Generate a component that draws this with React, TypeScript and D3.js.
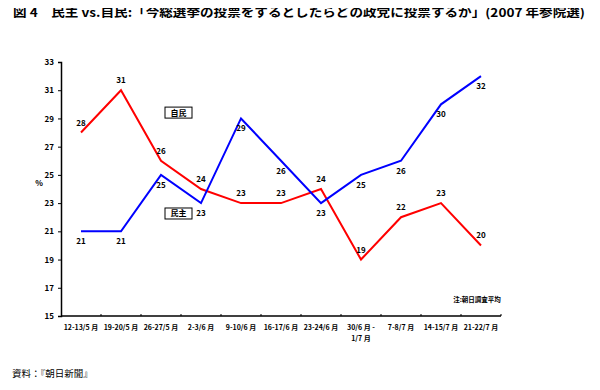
import React, { useEffect, useRef } from "react";
import * as d3 from "d3";

// survey periods (x categories); "\n" splits a label onto two lines
const periods = [
  "12-13/5 月",
  "19-20/5 月",
  "26-27/5 月",
  "2-3/6 月",
  "9-10/6 月",
  "16-17/6 月",
  "23-24/6 月",
  "30/6 月 -\n1/7 月",
  "7-8/7 月",
  "14-15/7 月",
  "21-22/7 月",
];

// 民主 (red) and 自民 (blue), in %
const minshu = [28, 31, 26, 24, 23, 23, 24, 19, 22, 23, 20];
const jimin = [21, 21, 25, 23, 29, 26, 23, 25, 26, 30, 32];

const yTicks = [15, 17, 19, 21, 23, 25, 27, 29, 31, 33];

const TITLE =
  "図 4　民主 vs.自民:「今総選挙の投票をするとしたらどの政党に投票するか」(2007 年参院選)";
const SOURCE = "資料：『朝日新聞』";
const NOTE = "注:朝日調査平均";

const FONT = "'Noto Sans CJK JP', 'DejaVu Sans', sans-serif";

function LineChart() {
  const svgRef = useRef<SVGSVGElement | null>(null);

  useEffect(() => {
    const width = 600;
    const height = 390;
    const margin = { top: 62, right: 99, bottom: 74, left: 61 };
    const w = width - margin.left - margin.right;
    const h = height - margin.top - margin.bottom;

    const root = d3.select(svgRef.current);
    root.selectAll("*").remove();
    root.attr("width", width).attr("height", height);

    root
      .append("rect")
      .attr("width", width)
      .attr("height", height)
      .attr("fill", "#fff");

    // title
    root
      .append("text")
      .attr("x", 13)
      .attr("y", 17)
      .attr("textLength", 572)
      .attr("lengthAdjust", "spacingAndGlyphs")
      .style("font-family", FONT)
      .style("font-size", "12px")
      .style("font-weight", "bold")
      .text(TITLE);

    // source
    root
      .append("text")
      .attr("x", 12)
      .attr("y", 377)
      .style("font-family", FONT)
      .style("font-size", "9.5px")
      .text(SOURCE);

    const g = root
      .append("g")
      .attr("transform", `translate(${margin.left},${margin.top})`);

    const x = d3.scaleBand<number>().domain(d3.range(periods.length)).range([0, w]);
    const y = d3.scaleLinear().domain([15, 33]).range([h, 0]);
    const cx = (i: number) => (x(i) as number) + x.bandwidth() / 2;

    // y axis
    const yAxis = g
      .append("g")
      .call(d3.axisLeft(y).tickValues(yTicks).tickSize(3).tickPadding(4));
    yAxis.select(".domain").attr("stroke", "#000").attr("stroke-width", 1.5);
    yAxis
      .selectAll("text")
      .style("font-family", FONT)
      .style("font-size", "8px")
      .style("font-weight", "bold");

    g.append("text")
      .attr("x", -22)
      .attr("y", h / 2 - 3)
      .attr("text-anchor", "middle")
      .style("font-family", FONT)
      .style("font-size", "8px")
      .style("font-weight", "bold")
      .text("%");

    // x axis: line with small inner ticks at band boundaries
    g.append("line")
      .attr("x1", 0)
      .attr("x2", w)
      .attr("y1", h)
      .attr("y2", h)
      .attr("stroke", "#000")
      .attr("stroke-width", 1.5);
    g.selectAll(".xtick")
      .data(d3.range(1, periods.length + 1))
      .join("line")
      .attr("class", "xtick")
      .attr("x1", (i) => (i < periods.length ? (x(i) as number) : w))
      .attr("x2", (i) => (i < periods.length ? (x(i) as number) : w))
      .attr("y1", h)
      .attr("y2", h - 2)
      .attr("stroke", "#000");

    const xl = g
      .selectAll(".xlabel")
      .data(periods)
      .join("text")
      .attr("class", "xlabel")
      .attr("text-anchor", "middle")
      .style("font-family", FONT)
      .style("font-size", "7px")
      .style("font-weight", "bold");
    xl.each(function (d, i) {
      const t = d3.select(this);
      d.split("\n").forEach((line, k) => {
        t.append("tspan")
          .attr("x", cx(i))
          .attr("y", h + 14 + k * 11)
          .text(line);
      });
    });

    const line = d3
      .line<number>()
      .x((_, i) => cx(i))
      .y((d) => y(d));

    const series = [
      { name: "民主", values: minshu, color: "#ff0000", dy: -7 },
      { name: "自民", values: jimin, color: "#0000ff", dy: 13 },
    ];

    series.forEach((s) => {
      g.append("path")
        .datum(s.values)
        .attr("d", line)
        .attr("fill", "none")
        .attr("stroke", s.color)
        .attr("stroke-width", 2);

      g.selectAll(`.lab-${s.name}`)
        .data(s.values)
        .join("text")
        .attr("class", `lab-${s.name}`)
        .attr("x", (_, i) => cx(i))
        .attr("y", (d) => y(d) + s.dy)
        .attr("text-anchor", "middle")
        .style("font-family", FONT)
        .style("font-size", "8px")
        .style("font-weight", "bold")
        .text((d) => d);
    });

    // legend boxes placed beside the lines
    const legend = [
      { name: "自民", xi: 2, yv: 29.45 },
      { name: "民主", xi: 2, yv: 22.3 },
    ];
    legend.forEach((l) => {
      const bx = (x(l.xi) as number) + 24;
      const by = y(l.yv);
      g.append("rect")
        .attr("x", bx)
        .attr("y", by - 5)
        .attr("width", 27)
        .attr("height", 11)
        .attr("fill", "#fff")
        .attr("stroke", "#000")
        .attr("stroke-width", 1);
      g.append("text")
        .attr("x", bx + 13.5)
        .attr("y", by + 3.5)
        .attr("text-anchor", "middle")
        .style("font-family", FONT)
        .style("font-size", "8px")
        .style("font-weight", "bold")
        .text(l.name);
    });

    // note
    g.append("text")
      .attr("x", w - 24)
      .attr("y", h - 14)
      .attr("text-anchor", "middle")
      .style("font-family", FONT)
      .style("font-size", "6.5px")
      .style("font-weight", "bold")
      .text(NOTE);
  }, []);

  return <svg ref={svgRef} style={{ display: "block" }} />;
}

export default function App() {
  return (
    <div style={{ margin: -8 }}>
      <LineChart />
    </div>
  );
}
